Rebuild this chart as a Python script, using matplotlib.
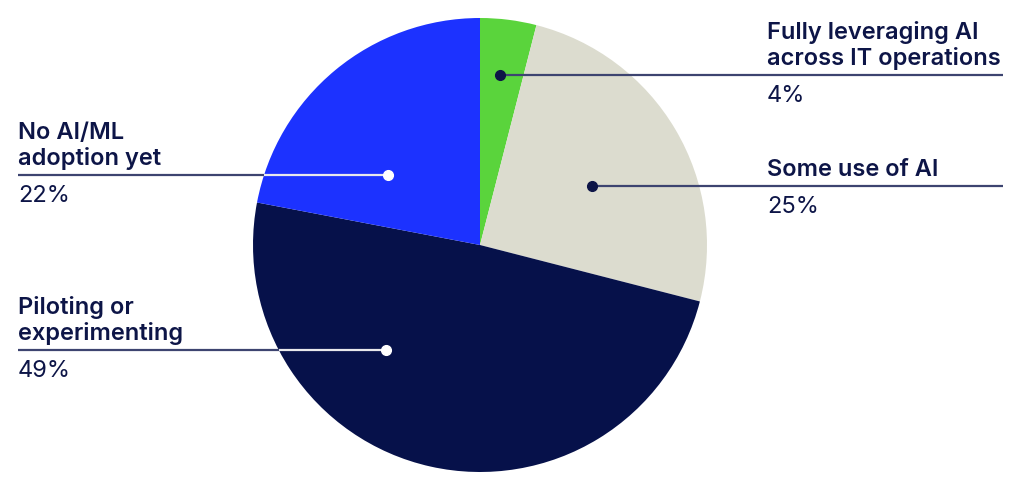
import matplotlib.pyplot as plt

# Survey shares (percent), clockwise from 12 o'clock
labels = ["Fully leveraging AI\nacross IT operations", "Some use of AI",
          "Piloting or\nexperimenting", "No AI/ML\nadoption yet"]
values = [4, 25, 49, 22]
colors = ["#5ad43c", "#dcdccf", "#06114a", "#1c32ff"]

W, H = 1024, 491
cx, cy, r = 480, H - 245, 227
text_color = "#0d1547"
line_color = "#3d4470"

fig = plt.figure(figsize=(W / 100, H / 100), dpi=100)
ax = fig.add_axes([0, 0, 1, 1])
ax.axis("off")

ax.pie(values, colors=colors, startangle=90, counterclock=False,
       center=(cx, cy), radius=r, wedgeprops=dict(linewidth=0))
ax.set_xlim(0, W)
ax.set_ylim(0, H)
ax.set_aspect("equal")

# callouts: dot position, side
callouts = [
    ((500, H - 75), "right"),
    ((592, H - 186), "right"),
    ((386, H - 350), "left"),
    ((388, H - 175), "left"),
]

for (lab, val, ((dx, dy), side)) in zip(labels, values, callouts):
    if side == "right":
        tx = 767
        ax.plot([dx, 1003], [dy, dy], color=line_color, lw=1.6, solid_capstyle="butt", zorder=3)
        ax.plot(dx, dy, "o", color=text_color, ms=7, zorder=4)
    else:
        tx = 18
        # where the line enters the pie
        edge = cx - (r ** 2 - (dy - cy) ** 2) ** 0.5
        ax.plot([18, edge], [dy, dy], color=line_color, lw=1.6, solid_capstyle="butt", zorder=3)
        ax.plot([edge, dx], [dy, dy], color="#e8e8ec", lw=1.6, solid_capstyle="butt", zorder=3)
        ax.plot(dx, dy, "o", color="white", ms=7, zorder=4)
    ax.text(tx, dy + 5, lab, ha="left", va="bottom", fontsize=17, fontweight=600,
            family="Inter", color=text_color, linespacing=1.18)
    ax.text(tx, dy - 10, f"{val}%", ha="left", va="top", fontsize=17,
            family="Inter", color=text_color)

fig.savefig("out.png", dpi=100)
